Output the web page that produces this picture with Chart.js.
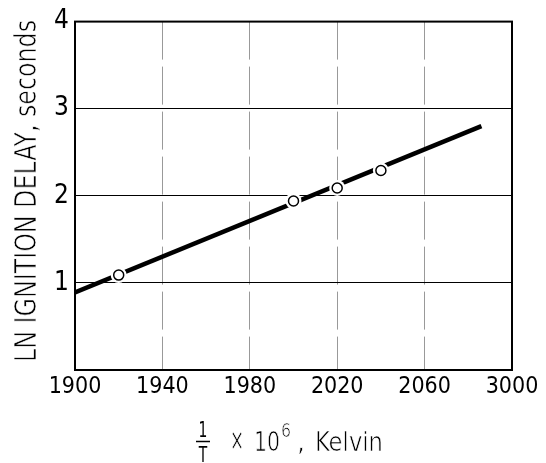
<!DOCTYPE html>
<html>
<head>
<meta charset="utf-8">
<script src="https://cdn.jsdelivr.net/npm/chart.js@4"></script>
<style>
  html, body { margin: 0; padding: 0; background: #fff; }
  #wrap { width: 546px; height: 463px; }
</style>
</head>
<body>
<div id="wrap"><canvas id="chart" width="546" height="463"></canvas></div>
<script>
// data
const fitX = [1900, 2086];
const fitY = [0.89, 2.8];
const pointX = [1920, 2000, 2020, 2040];
const pointY = [1.09, 1.94, 2.09, 2.29];
const xTicks = [1900, 1940, 1980, 2020, 2060, 2100];
const xTickLabels = ["1900", "1940", "1980", "2020", "2060", "3000"];
const yTicks = [0, 1, 2, 3, 4];
const yTickLabels = ["", "1", "2", "3", "4"];
const yTitle = "LN IGNITION DELAY, seconds";

const FONT = "'DejaVu Sans Condensed', 'DejaVu Sans', sans-serif";

// draw text squeezed to a given width, thinned a bit with a white outline
function squeezed(c, text, x, y, target) {
  const w = c.measureText(text).width;
  const sx = target / w;
  c.save();
  c.translate(x, y);
  c.scale(sx, 1);
  c.fillText(text, 0, 0);
  c.strokeStyle = "#fff";
  c.lineWidth = 0.7;
  c.strokeText(text, 0, 0);
  c.restore();
  return target;
}

// frame + axis titles
const extras = {
  id: "extras",
  afterDraw(chart) {
    const c = chart.ctx;
    const a = chart.chartArea;
    c.save();
    c.strokeStyle = "#000";
    c.lineWidth = 2;
    c.strokeRect(a.left, a.top, a.right - a.left, a.bottom - a.top);

    // y title
    c.fillStyle = "#000";
    c.font = "30px " + FONT;
    c.textAlign = "left";
    c.textBaseline = "alphabetic";
    c.translate(36, 362);
    c.rotate(-Math.PI / 2);
    squeezed(c, yTitle, 0, 0, 342);
    c.restore();

    // x title: 1/T x 10^6, Kelvin
    c.save();
    c.fillStyle = "#000";
    c.strokeStyle = "#000";
    c.textBaseline = "alphabetic";
    c.textAlign = "center";
    const fx = 203;
    c.font = "22px " + FONT;
    c.save();
    c.translate(fx, 437);
    c.scale(0.7, 1);
    c.fillText("1", 0, 0);
    c.restore();
    c.save();
    c.translate(fx, 462);
    c.scale(0.7, 1);
    c.fillText("T", 0, 0);
    c.restore();
    c.lineWidth = 1.5;
    c.beginPath();
    c.moveTo(fx - 7, 441.5);
    c.lineTo(fx + 7, 441.5);
    c.stroke();
    c.textAlign = "left";
    c.font = "30px " + FONT;
    squeezed(c, "\u00d7", 230, 450, 14);
    c.font = "27px " + FONT;
    squeezed(c, "10", 254, 451, 26);
    c.font = "19px " + FONT;
    squeezed(c, "6", 281, 437, 10);
    c.font = "27px " + FONT;
    squeezed(c, ",", 297, 451, 8);
    squeezed(c, "Kelvin", 315, 451, 68);
    c.restore();
  }
};

new Chart(document.getElementById("chart"), {
  type: "scatter",
  data: {
    datasets: [
      {
        label: "points",
        data: pointX.map((x, i) => ({ x: x, y: pointY[i] })),
        pointRadius: 5,
        pointBorderWidth: 1.5,
        pointBorderColor: "#000",
        pointBackgroundColor: "#fff",
        showLine: false,
        order: 0
      },
      {
        label: "halo",
        data: pointX.map((x, i) => ({ x: x, y: pointY[i] })),
        pointRadius: 8,
        pointBorderWidth: 0,
        pointBackgroundColor: "#fff",
        showLine: false,
        order: 1
      },
      {
        label: "fit",
        data: fitX.map((x, i) => ({ x: x, y: fitY[i] })),
        showLine: true,
        borderColor: "#000",
        borderWidth: 4.5,
        pointRadius: 0,
        order: 2
      }
    ]
  },
  options: {
    responsive: false,
    animation: false,
    layout: { padding: { top: 21, right: 34, left: 0, bottom: 0 } },
    plugins: {
      legend: { display: false },
      tooltip: { enabled: false }
    },
    scales: {
      x: {
        type: "linear",
        min: 1900,
        max: 2100,
        afterBuildTicks(axis) {
          axis.ticks = xTicks.map(v => ({ value: v }));
        },
        afterFit(axis) { axis.height = 93; },
        ticks: {
          color: "#000",
          font: { family: FONT, size: 23 },
          padding: 3,
          maxRotation: 0,
          callback: (v) => xTickLabels[xTicks.indexOf(v)]
        },
        grid: {
          color: "#999",
          lineWidth: 1,
          drawTicks: false
        },
        border: { display: false, dash: [38, 7] }
      },
      y: {
        min: 0,
        max: 4,
        afterBuildTicks(axis) {
          axis.ticks = yTicks.map(v => ({ value: v }));
        },
        afterFit(axis) { axis.width = 75; },
        ticks: {
          color: "#000",
          font: { family: FONT, size: 26 },
          padding: 6,
          callback: (v) => yTickLabels[yTicks.indexOf(v)]
        },
        grid: {
          color: "#000",
          lineWidth: 1,
          drawTicks: false
        },
        border: { display: false }
      }
    }
  },
  plugins: [extras]
});
</script>
</body>
</html>
